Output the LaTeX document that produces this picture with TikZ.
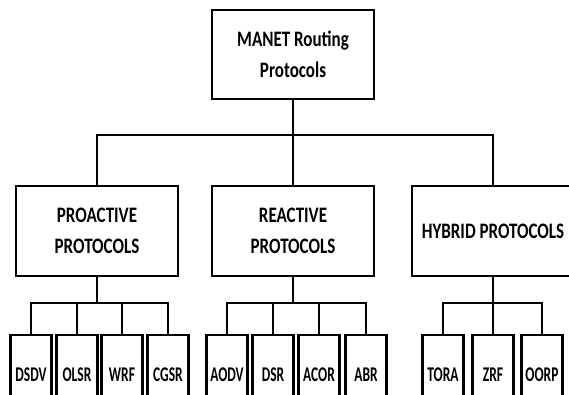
\documentclass[tikz,border=0pt]{standalone}
\usepackage{graphicx}
\usepackage{fontspec}
\setmainfont{Carlito}
\newcommand{\hs}[1]{\scalebox{1}[1.3]{#1}}
\newcommand{\ls}[1]{\scalebox{1}[1.55]{#1}}
\begin{document}
\begin{tikzpicture}[x=1pt,y=-1pt,
  box/.style={draw=black,line width=2.6pt,fill=white,inner sep=0pt,align=center,font=\fontsize{17}{31}\selectfont\bfseries},
  leaf/.style={draw=black,line width=2.6pt,fill=white,inner sep=0pt,minimum width=41pt,minimum height=80pt,font=\fontsize{13.5}{16}\selectfont\bfseries},
  link/.style={draw=black,line width=2pt}]
\useasboundingbox (0,0) rectangle (569,394);
\clip (0,0) rectangle (569,394);
% top
\node[box,minimum width=162pt,minimum height=89pt] (top) at (293,54.5) {\hs{MANET Routing}\\\hs{Protocols}};
% level 2
\node[box,minimum width=162pt,minimum height=90pt] (pro) at (97,231) {\hs{PROACTIVE}\\\hs{PROTOCOLS}};
\node[box,minimum width=162pt,minimum height=90pt] (rea) at (293,231) {\hs{REACTIVE}\\\hs{PROTOCOLS}};
\node[box,minimum width=162pt,minimum height=90pt] (hyb) at (493,231) {\hs{HYBRID PROTOCOLS}};
% leaves
\node[leaf] (dsdv) at (31,375) {\ls{DSDV}};
\node[leaf] (olsr) at (77,375) {\ls{OLSR}};
\node[leaf] (wrf) at (122,375) {\ls{WRF}};
\node[leaf] (cgsr) at (168,375) {\ls{CGSR}};
\node[leaf] (aodv) at (227,375) {\ls{AODV}};
\node[leaf] (dsr) at (273,375) {\ls{DSR}};
\node[leaf] (acor) at (319,375) {\ls{ACOR}};
\node[leaf] (abr) at (366,375) {\ls{ABR}};
\node[leaf] (tora) at (443,375) {\ls{TORA}};
\node[leaf] (zrf) at (493,375) {\ls{ZRF}};
\node[leaf] (oorp) at (542,375) {\ls{OORP}};
% junctions
\coordinate (j0) at (293,135);
\coordinate (jp) at (97,303);
\coordinate (jr) at (293,303);
\coordinate (jh) at (493,303);
% connectors
\draw[link] (top.south) -- (j0);
\draw[link] (j0) -| (pro.north);
\draw[link] (j0) -- (rea.north);
\draw[link] (j0) -| (hyb.north);
\draw[link] (pro.south) -- (jp);
\draw[link] (jp) -| (dsdv.north);
\draw[link] (jp) -| (olsr.north);
\draw[link] (jp) -| (wrf.north);
\draw[link] (jp) -| (cgsr.north);
\draw[link] (rea.south) -- (jr);
\draw[link] (jr) -| (aodv.north);
\draw[link] (jr) -| (dsr.north);
\draw[link] (jr) -| (acor.north);
\draw[link] (jr) -| (abr.north);
\draw[link] (hyb.south) -- (jh);
\draw[link] (jh) -| (tora.north);
\draw[link] (jh) -- (zrf.north);
\draw[link] (jh) -| (oorp.north);
\end{tikzpicture}
\end{document}
